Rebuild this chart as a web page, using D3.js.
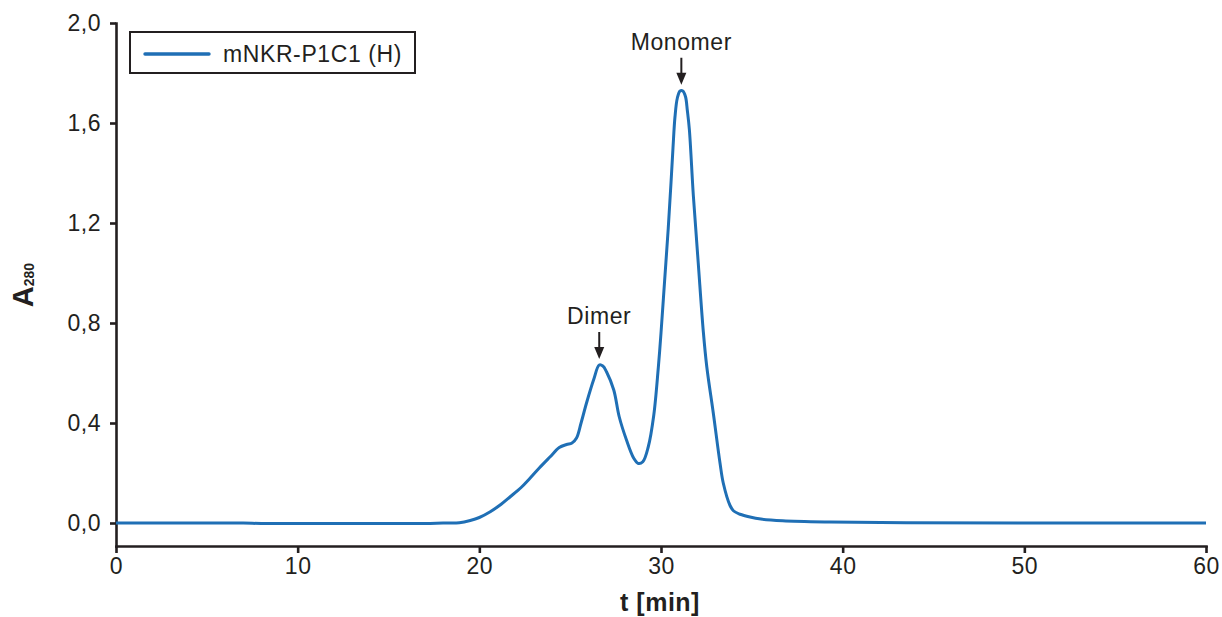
<!DOCTYPE html>
<html>
<head>
<meta charset="utf-8">
<script src="https://cdn.jsdelivr.net/npm/d3@7"></script>
<style>
  body { margin: 0; background: #fff; }
  svg { display: block; font-family: "Liberation Sans", Arial, sans-serif; }
  .axis path, .axis line { stroke: #231f20; stroke-width: 2.6; }
  .axis text { fill: #231f20; font-size: 23px; letter-spacing: 0.5px; }
</style>
</head>
<body>
<div id="graphic"></div>
<script>
// elution time [min]
const time = [0, 3, 7, 8, 12, 17, 18, 18.9, 19.5, 20.0, 20.6, 21.2, 21.7, 22.3, 22.8, 23.3, 23.9, 24.4, 24.8, 25.1,
  25.35, 25.6, 25.9, 26.3, 26.6, 26.8, 27.0, 27.4, 27.7, 28.1, 28.5, 28.75, 29.0, 29.3, 29.6, 29.85, 30.0, 30.2,
  30.4, 30.55, 30.66, 30.77, 30.9, 31.05, 31.2, 31.35, 31.45, 31.56, 31.78, 32.05, 32.33, 32.52, 32.88, 33.25,
  33.43, 33.8, 34.0, 34.35, 34.9, 35.5, 36.7, 39.3, 43.5, 50, 60];
// absorbance at 280 nm
const absorbance = [0, 0, 0, -0.002, -0.002, -0.002, 0, 0.001, 0.01, 0.022, 0.045, 0.075, 0.105, 0.142, 0.18, 0.22, 0.265, 0.302, 0.314, 0.32,
  0.34, 0.4, 0.48, 0.575, 0.632, 0.628, 0.605, 0.532, 0.425, 0.332, 0.259, 0.238, 0.245, 0.305, 0.43, 0.62, 0.76, 0.97,
  1.18, 1.36, 1.5, 1.625, 1.7, 1.728, 1.728, 1.705, 1.65, 1.575, 1.31, 1.04, 0.765, 0.625, 0.439, 0.239,
  0.159, 0.07, 0.048, 0.035, 0.024, 0.016, 0.009, 0.004, 0.001, 0, 0];

const xTicks = [0, 10, 20, 30, 40, 50, 60];
const yTicks = [0, 0.4, 0.8, 1.2, 1.6, 2.0];
const seriesName = "mNKR-P1C1 (H)";
const peakLabels = ["Dimer", "Monomer"];
const peakTime = [26.6, 31.12];
const peakValue = [0.632, 1.729];

const W = 1222, H = 617;
const LINE_COLOR = "#1f6fb5";
const INK = "#231f20";

const svg = d3.select("#graphic").append("svg")
  .attr("width", W)
  .attr("height", H);

const x = d3.scaleLinear().domain([0, 60]).range([116, 1206]);
const y = d3.scaleLinear().domain([-0.092, 2.0]).range([546, 23]);

const fmt = d3.format(".1f");

svg.append("g")
  .attr("class", "axis")
  .attr("transform", "translate(0,546)")
  .call(d3.axisBottom(x).tickValues(xTicks).tickSize(7).tickSizeOuter(0).tickPadding(5))
  .call(g => g.select(".domain").attr("stroke-linecap", "square"));

svg.append("g")
  .attr("class", "axis")
  .attr("transform", "translate(116,0)")
  .call(d3.axisLeft(y).tickValues(yTicks).tickSize(6).tickSizeOuter(0).tickPadding(9)
    .tickFormat(d => fmt(d).replace(".", ",")))
  .call(g => g.select(".domain").attr("stroke-linecap", "square"));

// axis titles
svg.append("text")
  .attr("x", x(30) - 1)
  .attr("y", 611)
  .attr("text-anchor", "middle")
  .style("font-size", "25px")
  .style("font-weight", "bold")
  .style("letter-spacing", "0.5px")
  .style("fill", INK)
  .text("t [min]");

const yt = svg.append("text")
  .attr("transform", "translate(33,285) rotate(-90)")
  .attr("text-anchor", "middle")
  .style("font-weight", "bold")
  .style("fill", INK);
yt.append("tspan").style("font-size", "29px").text("A");
yt.append("tspan").style("font-size", "14px").attr("dy", 1).text("280");

// trace
const data = time.map((t, i) => ({ t: t, v: absorbance[i] }));
const line = d3.line()
  .x(d => x(d.t))
  .y(d => y(d.v))
  .curve(d3.curveCatmullRom.alpha(0.5));

svg.append("path")
  .datum(data)
  .attr("d", line)
  .attr("fill", "none")
  .attr("stroke", LINE_COLOR)
  .attr("stroke-width", 3)
  .attr("stroke-linejoin", "round");

// peak annotations
peakLabels.forEach((label, i) => {
  const px = x(peakTime[i]);
  const tip = y(peakValue[i]) - 6;
  const tail = tip - 27;
  svg.append("line")
    .attr("x1", px).attr("x2", px)
    .attr("y1", tail).attr("y2", tip - 8)
    .attr("stroke", INK)
    .attr("stroke-width", 2);
  svg.append("path")
    .attr("d", `M${px - 5},${tip - 12} L${px + 5},${tip - 12} L${px},${tip} Z`)
    .attr("fill", INK);
  svg.append("text")
    .attr("x", px)
    .attr("y", tail - 8)
    .attr("text-anchor", "middle")
    .style("font-size", "23px")
    .style("letter-spacing", "0.6px")
    .style("fill", INK)
    .text(label);
});

// legend
const legend = svg.append("g");
legend.append("rect")
  .attr("x", 130).attr("y", 32)
  .attr("width", 285).attr("height", 41)
  .attr("fill", "#fff")
  .attr("stroke", INK)
  .attr("stroke-width", 2);
legend.append("line")
  .attr("x1", 145).attr("x2", 209)
  .attr("y1", 54).attr("y2", 54)
  .attr("stroke", LINE_COLOR)
  .attr("stroke-width", 3.4)
  .attr("stroke-linecap", "round");
legend.append("text")
  .attr("x", 223).attr("y", 62)
  .style("font-size", "23px")
  .style("letter-spacing", "0.6px")
  .style("fill", INK)
  .text(seriesName);
</script>
</body>
</html>
